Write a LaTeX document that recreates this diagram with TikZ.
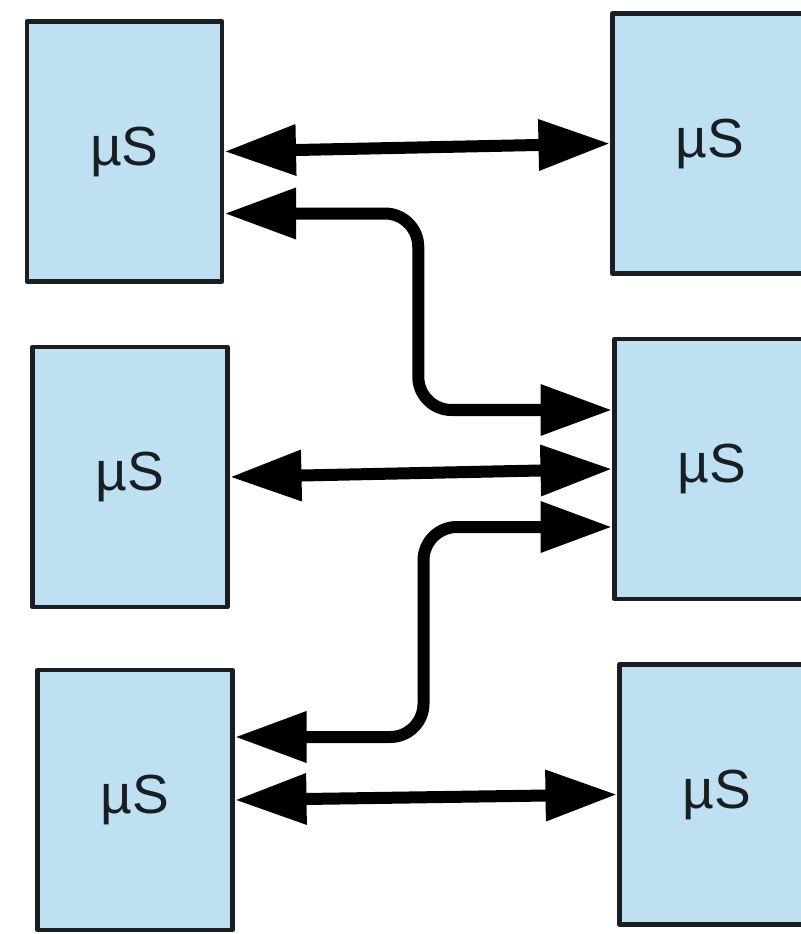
\documentclass[tikz,border=0pt]{standalone}
\usepackage{fontspec}
\setmainfont{Liberation Sans}
\usetikzlibrary{arrows.meta,calc}
\definecolor{boxblue}{RGB}{190,224,242}
\definecolor{inkdark}{RGB}{25,30,35}
\tikzset{
  mubox/.style={draw=inkdark,line width=0.14cm,fill=boxblue,minimum width=5.85cm,minimum height=7.8cm,
    font=\fontsize{47}{54}\selectfont,text=inkdark},
  link/.style={line width=0.36cm,draw=black,{Triangle[length=2.15cm,width=1.45cm]}-{Triangle[length=2.15cm,width=1.45cm]}},
}
\begin{document}
\begin{tikzpicture}[line cap=butt,line join=round,x=0.03cm,y=-0.03cm]
    \useasboundingbox[fill=white] (0,0) rectangle (800,934);
    \def\bend{1cm}
    % left column
    \node[mubox] (l1) at (124.5,151.5) {µS};
    \node[mubox] (l2) at (130,477) {µS};
    \node[mubox] (l3) at (135,800) {µS};
    % right column
    \node[mubox] (r1) at (710,143.5) {µS};
    \node[mubox] (r2) at (712,469) {µS};
    \node[mubox] (r3) at (717,794.5) {µS};

    % straight links
    \foreach \a/\b in {l1/r1,l2/r2,l3/r3} {\draw[link] (\a.east) -- (\b.west);}

    % crossing links
    \coordinate (s1) at ([yshift=-1.86cm]l1.east);
    \coordinate (t1) at ([yshift=1.77cm]r2.west);
    \draw[link,rounded corners=\bend] (s1) -| ($(s1)!0.5!(t1)$) |- (t1);
    \coordinate (s2) at ([yshift=1.89cm]l3.east);
    \coordinate (t2) at ([yshift=-1.74cm]r2.west);
    \draw[link,rounded corners=\bend] (s2) -| ($(s2)!0.5!(t2)$) |- (t2);
\end{tikzpicture}
\end{document}
